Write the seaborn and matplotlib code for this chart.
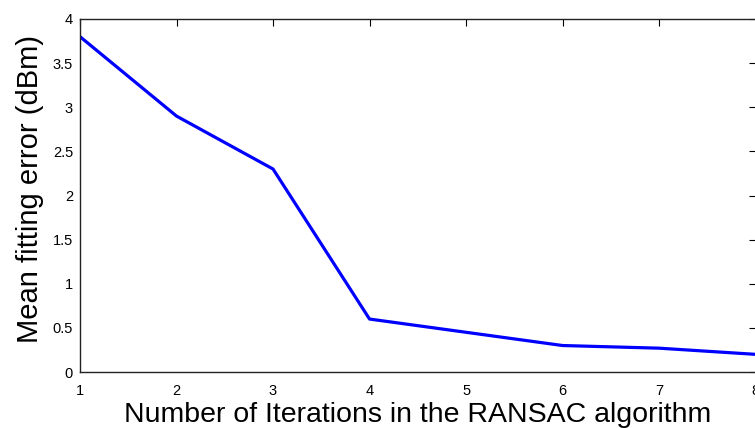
import matplotlib
matplotlib.use("Agg")
import matplotlib.pyplot as plt
import seaborn as sns
import pandas as pd

iterations = [1, 2, 3, 4, 5, 6, 7, 8]
mean_error = [3.8, 2.9, 2.3, 0.6, 0.45, 0.3, 0.27, 0.2]
x_ticks = [1, 2, 3, 4, 5, 6, 7, 8]
y_ticks = [0, 0.5, 1, 1.5, 2, 2.5, 3, 3.5, 4]
y_tick_labels = ["0", "0.5", "1", "1.5", "2", "2.5", "3", "3.5", "4"]

sns.set_theme(style="white")
plt.rcParams["font.family"] = ["Liberation Sans", "DejaVu Sans"]
plt.rcParams["text.color"] = "black"
plt.rcParams["axes.labelcolor"] = "black"

df = pd.DataFrame({"iter": iterations, "err": mean_error})

fig = plt.figure(figsize=(7.55, 4.28), dpi=100)
ax = fig.add_axes([80 / 755, 1 - 372 / 428, 675.6 / 755, (372 - 19) / 428])
sns.lineplot(data=df, x="iter", y="err", ax=ax, color="#0000ff", linewidth=2.3)

ax.set_xlim(1, 8)
ax.set_ylim(0, 4)
ax.set_xticks(x_ticks)
ax.set_yticks(y_ticks)
ax.set_yticklabels(y_tick_labels)
ax.tick_params(direction="in", length=5, width=0.8, colors="black",
               labelsize=10.5, top=True, right=True)
ax.tick_params(axis="x", pad=8.5)
ax.tick_params(axis="y", pad=5)
for s in ax.spines.values():
    s.set_color("#222222")
    s.set_linewidth(1.0)
ax.set_xlabel("Number of Iterations in the RANSAC algorithm", fontsize=20.5, labelpad=3)
ax.set_ylabel("Mean fitting error (dBm)", fontsize=21)
ax.yaxis.set_label_coords(-0.053, 0.518)

fig.savefig("out.png", dpi=100)
